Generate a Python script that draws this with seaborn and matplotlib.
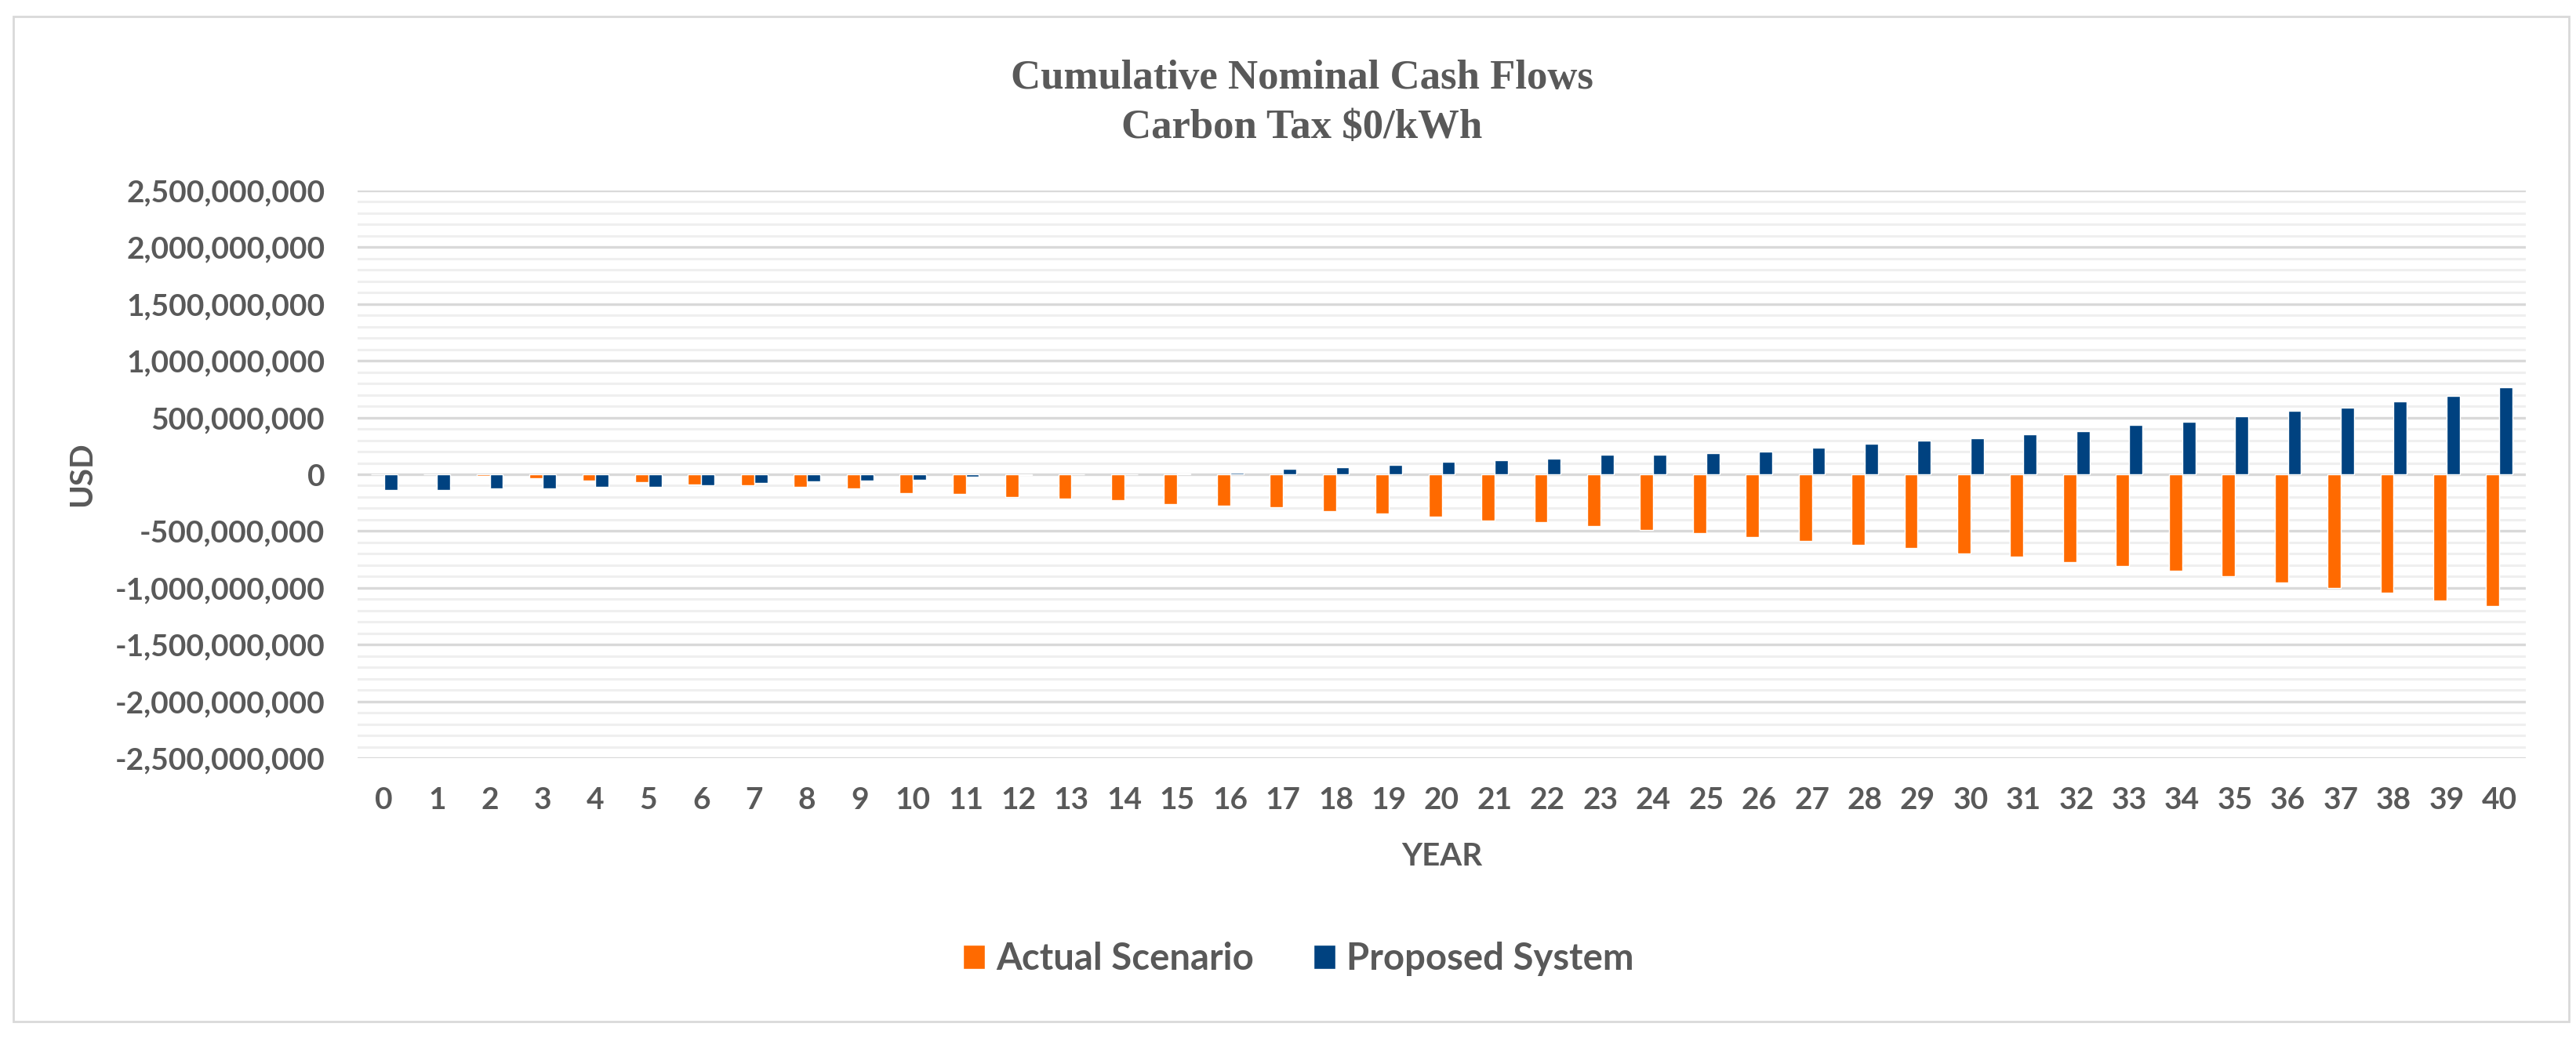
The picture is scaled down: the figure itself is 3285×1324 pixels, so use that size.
import matplotlib
matplotlib.use('Agg')
import matplotlib.pyplot as plt
import matplotlib.ticker as mticker
from matplotlib.patches import Rectangle
import seaborn as sns
import pandas as pd

# Cumulative nominal cash flows, million USD
years = list(range(41))
actual_scenario = [0, 0, -15, -35, -55, -72, -90, -95, -108, -125,
                   -164, -176, -197, -211, -227, -262, -275, -292, -326, -343,
                   -373, -406, -424, -456, -491, -521, -555, -585, -619, -651,
                   -695, -723, -771, -805, -851, -899, -950, -998, -1046, -1110,
                   -1158]
proposed_system = [-140, -140, -127, -127, -108, -108, -97, -75, -60, -58,
                   -45, -18, -5, -3, -1, 4, 15, 46, 62, 86,
                   108, 122, 138, 172, 172, 188, 202, 234, 268, 298,
                   316, 350, 382, 432, 465, 510, 561, 590, 641, 689,
                   769]

series_names = ['Actual Scenario', 'Proposed System']
series_colors = ['#FF6A00', '#004280']
title_lines = ['Cumulative Nominal Cash Flows', 'Carbon Tax $0/kWh']

text_gray = '#595959'

sns.set_theme(style='white')
plt.rcParams['font.family'] = ['Lato', 'DejaVu Sans']

# long-form table for seaborn
df = pd.DataFrame({
    'Year': years + years,
    'USD': [v * 1e6 for v in actual_scenario + proposed_system],
    'Scenario': [series_names[0]] * len(years) + [series_names[1]] * len(years),
})

W, H = 3285, 1324
fig = plt.figure(figsize=(W / 100, H / 100), dpi=100, facecolor='white')
ax = fig.add_axes([456 / W, 1 - 967 / H, (3221 - 456) / W, (967 - 243) / H])

sns.barplot(data=df, x='Year', y='USD', hue='Scenario',
            palette=dict(zip(series_names, series_colors)),
            width=0.5, gap=0, errorbar=None, saturation=1, ax=ax)

# y axis: major every 500M, minor every 100M
ax.set_ylim(-2.5e9, 2.5e9)
ax.yaxis.set_major_locator(mticker.MultipleLocator(5e8))
ax.yaxis.set_minor_locator(mticker.MultipleLocator(1e8))
ax.yaxis.set_major_formatter(
    mticker.FuncFormatter(lambda v, p: '0' if abs(v) < 1 else f'{v:,.0f}'))

ax.grid(which='minor', axis='y', color='#EFEFEF', lw=2.2)
ax.grid(which='major', axis='y', color='#D9D9D9', lw=2.4)
ax.set_axisbelow(True)
sns.despine(ax=ax, left=True, bottom=True)

ax.tick_params(axis='both', which='both', length=0, labelsize=28, labelcolor=text_gray)
ax.tick_params(axis='x', pad=26)
ax.tick_params(axis='y', pad=30)
for lab in ax.get_xticklabels() + ax.get_yticklabels():
    lab.set_fontweight('bold')

ax.set_xlabel('YEAR', fontsize=29, fontweight='bold', color=text_gray, va='center')
ax.xaxis.set_label_coords(0.5, -(1092 - 967) / (967 - 243))
ax.set_ylabel('USD', fontsize=29, fontweight='bold', color=text_gray, va='center')
ax.yaxis.set_label_coords((105 - 456) / (3221 - 456), 0.5)

# title, two lines centred above the plot
serif = ['Liberation Serif', 'DejaVu Serif']
fig.text(1660 / W, 1 - 100 / H, title_lines[0], ha='center', va='center',
         family=serif, fontsize=38, fontweight='bold', color=text_gray)
fig.text(1660 / W, 1 - 163 / H, title_lines[1], ha='center', va='center',
         family=serif, fontsize=38, fontweight='bold', color=text_gray)

# legend at the bottom
handles, labels = ax.get_legend_handles_labels()
ax.legend_.remove()
fig.legend(handles, labels, loc='center', bbox_to_anchor=(1656 / W, 1 - 1223 / H),
           ncol=2, frameon=False, labelcolor=text_gray,
           prop={'size': 34, 'weight': 'bold'},
           handlelength=0.6, handleheight=0.65, handletextpad=0.3, columnspacing=1.6)

# light chart border
fig.add_artist(Rectangle((17 / W, 1 - 1303 / H), (3276 - 17) / W, (1303 - 21) / H,
                         transform=fig.transFigure, fill=False,
                         edgecolor='#D9D9D9', lw=2))

fig.savefig('out.png', dpi=100, facecolor='white')
